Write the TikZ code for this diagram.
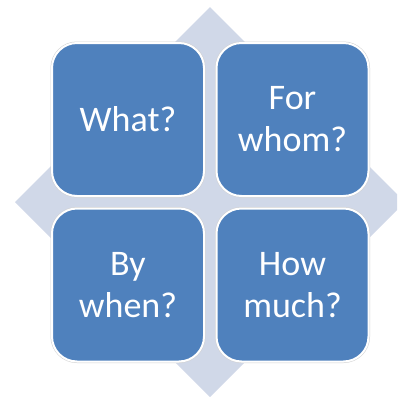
\documentclass[tikz,border=0pt]{standalone}
\usepackage{fontspec}
\setmainfont{Carlito}
\definecolor{boxblue}{HTML}{4F81BD}
\definecolor{diamondgray}{HTML}{D0D8E8}
\begin{document}
\begin{tikzpicture}[x=1pt,y=-1pt,
  quad/.style={draw=white, line width=2pt, fill=boxblue, rounded corners=25pt,
    preaction={draw=black!18, line width=3pt},
    minimum width=152pt, minimum height=153pt, inner sep=0pt,
    text=white, align=center, font=\fontsize{36}{42}\selectfont}]
\useasboundingbox (0,0) rectangle (397,397);
\begin{scope}
\clip (0,0) rectangle (397,397);
\fill[diamondgray] (210,7) -- (405,202) -- (210,397) -- (15,202) -- cycle;
\end{scope}
\node[quad] (what) at (128,119.5) {What?};
\node[quad] (whom) at (292.5,119.5) {For\\whom?};
\node[quad] (when) at (128,285) {By\\when?};
\node[quad] (much) at (292.5,285) {How\\much?};
\end{tikzpicture}
\end{document}
